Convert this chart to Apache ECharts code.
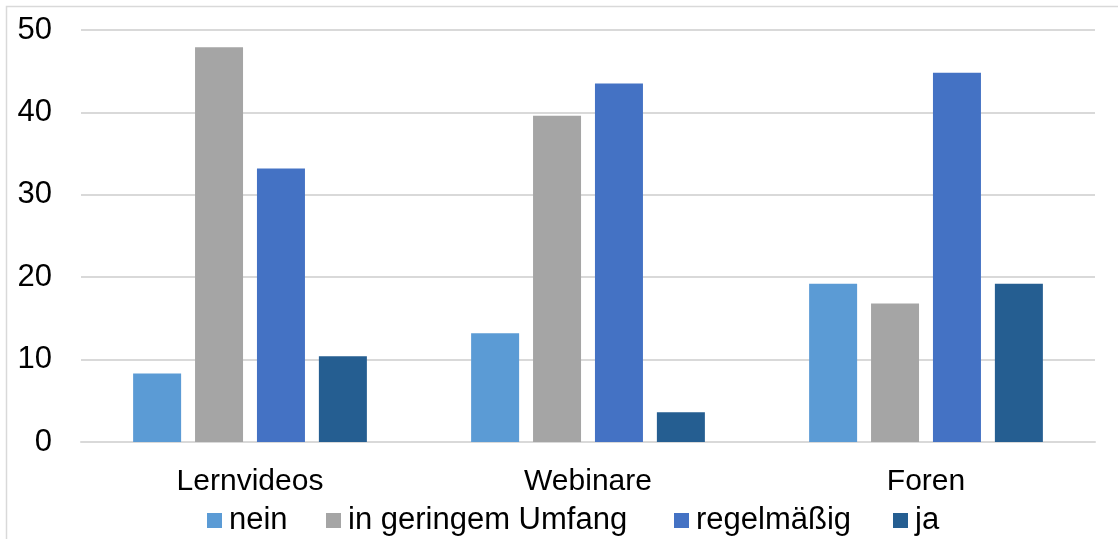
<!DOCTYPE html>
<html>
<head>
<meta charset="utf-8">
<title>Nutzung digitaler Formate</title>
<script src="https://cdn.jsdelivr.net/npm/echarts@6/dist/echarts.min.js"></script>
<style>
  html, body { margin: 0; padding: 0; background: #fff; }
  #chart { width: 1118px; height: 539px; }
</style>
</head>
<body>
<div id="chart"></div>
<script>
// Categories and answer shares (percent)
var categories = ['Lernvideos', 'Webinare', 'Foren'];
var seriesNames = ['nein', 'in geringem Umfang', 'regelmäßig', 'ja'];
var neinValues = [8.3, 13.2, 19.2];
var geringValues = [47.9, 39.6, 16.8];
var regelValues = [33.2, 43.5, 44.8];
var jaValues = [10.4, 3.6, 19.2];
var yTicks = [0, 10, 20, 30, 40, 50];

var colors = ['#5B9BD5', '#A5A5A5', '#4472C4', '#255E91'];
var valueSets = [neinValues, geringValues, regelValues, jaValues];
var FONT = '"Liberation Sans", Arial, sans-serif';

var chart = echarts.init(document.getElementById('chart'), null, { renderer: 'canvas' });

var series = seriesNames.map(function (name, i) {
  return {
    name: name,
    type: 'bar',
    data: valueSets[i],
    barWidth: 48,
    barGap: '29%',
    itemStyle: { color: colors[i] },
    emphasis: { disabled: true }
  };
});

// One legend block per entry so each swatch sits at its own spot
var legendLefts = [207, 326, 674, 893];
var legends = seriesNames.map(function (name, i) {
  return {
    data: [{ name: name, icon: 'rect' }],
    left: legendLefts[i],
    top: 505,
    padding: 0,
    itemWidth: 15,
    itemHeight: 15,
    itemGap: 0,
    selectedMode: false,
    textStyle: { fontFamily: FONT, fontSize: 31, color: '#000', padding: [0, 0, 0, 2] }
  };
});

chart.setOption({
  animation: false,
  color: colors,
  legend: legends,
  grid: { left: 81, right: 23, top: 30, bottom: 97, containLabel: false },
  xAxis: {
    type: 'category',
    data: categories,
    axisTick: { show: false },
    axisLine: { show: true, lineStyle: { color: '#D9D9D9', width: 2 } },
    axisLabel: { fontFamily: FONT, fontSize: 30, color: '#000', margin: 25, lineHeight: 30 }
  },
  yAxis: {
    type: 'value',
    min: yTicks[0],
    max: yTicks[yTicks.length - 1],
    interval: 10,
    axisLine: { show: false },
    axisTick: { show: false },
    splitLine: { lineStyle: { color: '#D9D9D9', width: 2 } },
    axisLabel: { fontFamily: FONT, fontSize: 31, color: '#000', margin: 29 }
  },
  graphic: [{
    type: 'polyline',
    silent: true,
    shape: { points: [[6.5, 539], [6.5, 6.5], [1118, 6.5]] },
    style: { stroke: '#D9D9D9', lineWidth: 1.5, fill: null }
  }],
  series: series
});
</script>
</body>
</html>
